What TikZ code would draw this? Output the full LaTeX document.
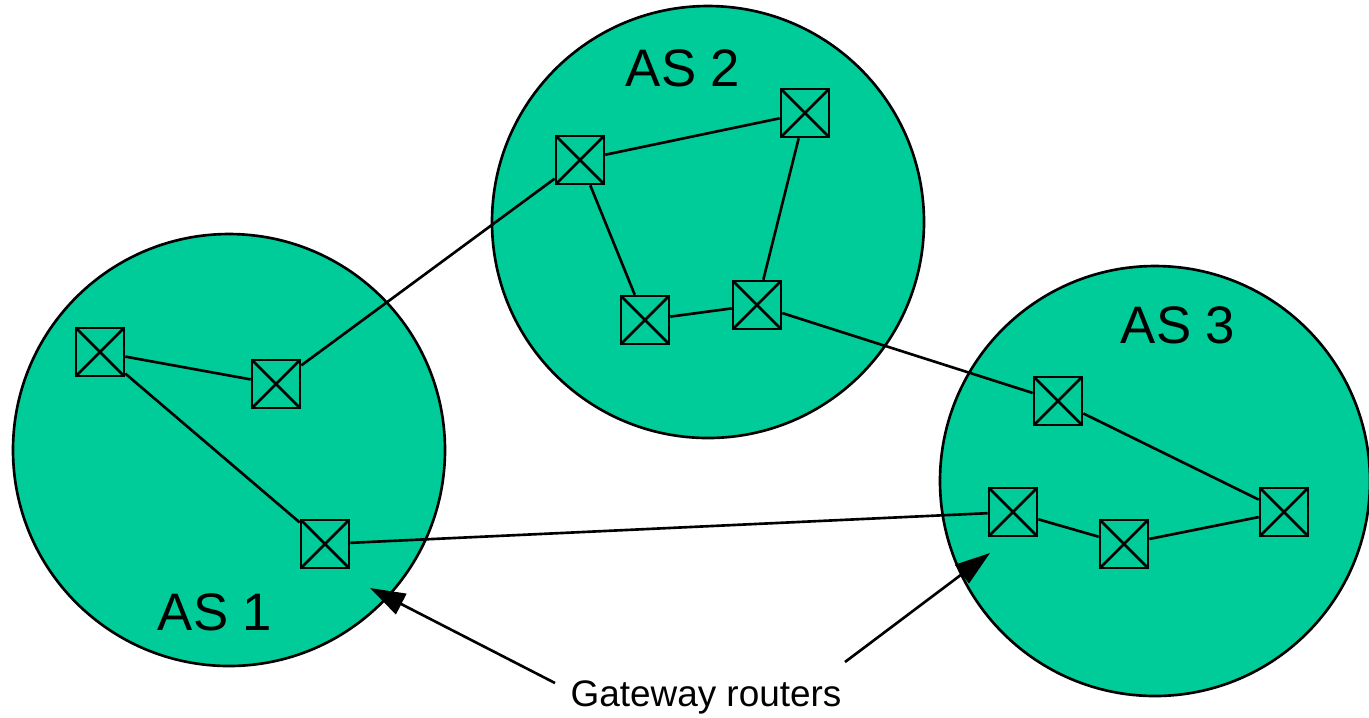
\documentclass[tikz,border=0pt]{standalone}
\usepackage{fontspec}
\setmainfont{Liberation Sans}
\usetikzlibrary{arrows.meta}
\definecolor{asgreen}{RGB}{0,204,153}
\begin{document}
\begin{tikzpicture}[x=0.01cm,y=-0.01cm,line width=0.75pt,
        asarea/.style={draw,fill=asgreen,line width=0.75pt},
        router/.style={draw,rectangle,minimum size=0.48cm,inner sep=0pt,
            path picture={\draw (path picture bounding box.south west)--(path picture bounding box.north east)
                (path picture bounding box.north west)--(path picture bounding box.south east);}},
        aslabel/.style={font=\fontsize{15pt}{17pt}\selectfont},
        note/.style={font=\fontsize{10.5pt}{12pt}\selectfont}]
        \useasboundingbox (0,0) rectangle (1369,717);
        % autonomous systems
        \draw[asarea] (229,450) circle[radius=216];
        \draw[asarea] (708,222) circle[radius=216];
        \draw[asarea] (1155,481) circle[radius=215];
        \node[aslabel] (as1) at (215,612) {AS 1};
        \node[aslabel] (as2) at (683,68) {AS 2};
        \node[aslabel] (as3) at (1178,325) {AS 3};
        % routers
        \node[router] (r1a) at (100,352) {};
        \node[router] (r1b) at (276,384) {};
        \node[router] (r1c) at (325,544) {};
        \node[router] (r2a) at (580,160) {};
        \node[router] (r2b) at (805,113) {};
        \node[router] (r2c) at (645,320) {};
        \node[router] (r2d) at (757,305) {};
        \node[router] (r3a) at (1058,401) {};
        \node[router] (r3b) at (1013,512) {};
        \node[router] (r3c) at (1124,544) {};
        \node[router] (r3d) at (1284,512) {};
        % links
        \draw (r1a)--(r1b) (r1a)--(r1c);
        \draw (r2a)--(r2b) (r2a)--(r2c) (r2b)--(r2d) (r2c)--(r2d);
        \draw (r3a)--(r3d) (r3b)--(r3c) (r3c)--(r3d);
        \draw (r1b)--(r2a) (r2d)--(r3a) (r1c)--(r3b);
        % gateway note
        \node[note] (gw) at (706,697) {Gateway routers};
        \coordinate (gw1) at (370,588);
        \coordinate (gw3) at (990,553);
        \draw[-{Triangle[length=20pt,width=13pt,scale=0.5]}] (555,683)--(gw1);
        \draw[-{Triangle[length=20pt,width=13pt,scale=0.5]}] (845,662)--(gw3);
    \end{tikzpicture}
\end{document}
